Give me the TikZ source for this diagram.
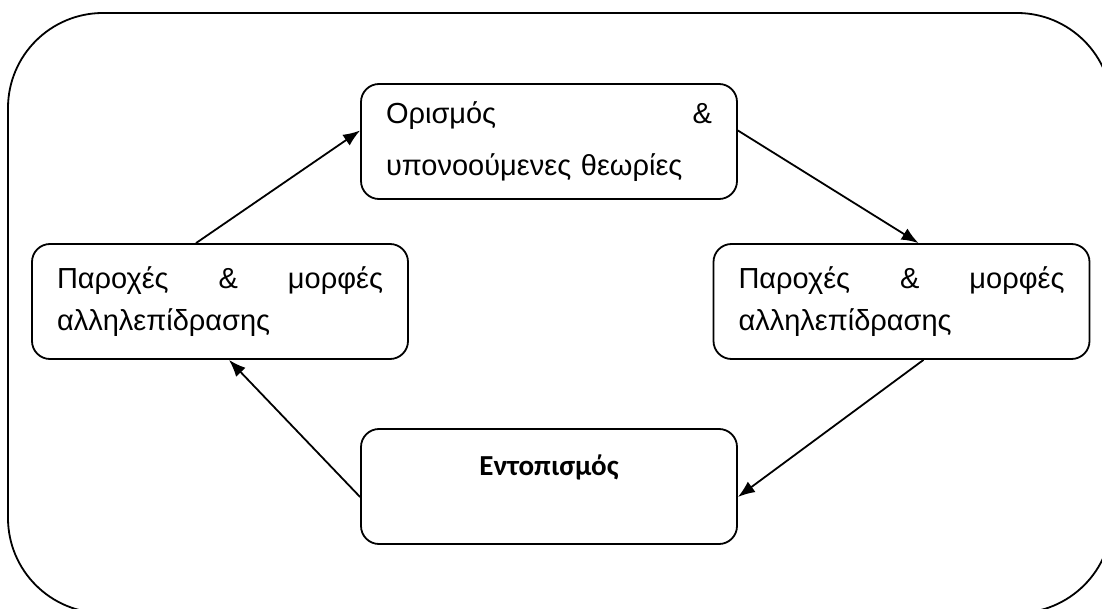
\documentclass[tikz,border=0pt]{standalone}
\usepackage{fontspec}
\setmainfont{Liberation Sans}
\newfontfamily\calibri{Carlito}
\usepackage{tikz}
\usetikzlibrary{arrows.meta}
\usetikzlibrary{positioning}

\tikzset{
  stage/.style={draw, line width=0.9pt, rounded corners=9pt, minimum height=57.5pt,
    inner xsep=12.5pt, text width=163pt, align=left,
    font=\fontsize{14.5}{21}\selectfont},
  flow/.style={-{Latex[length=8.5pt,width=6.5pt]}, line width=0.9pt}
}

\begin{document}
\begin{tikzpicture}[x=0.5pt,y=-0.5pt]
\useasboundingbox (0,0) rectangle (1102,609);
\clip (0,0) rectangle (1102,609);
\draw[line width=0.9pt, rounded corners=47.5pt] (8,13) rectangle (1112,613);

\node[stage, font=\fontsize{14.5}{26}\selectfont] (def) at (549,141.5)
  {Ορισμός\hfill\&\\υπονοούμενες θεωρίες};
\node[stage] (right) at (901.5,301.5) {Παροχές\hfill\&\hfill μορφές\\αλληλεπίδρασης};
\node[stage] (left) at (220,301.5) {Παροχές\hfill\&\hfill μορφές\\αλληλεπίδρασης};
\node[stage, align=center, font=\calibri\bfseries\fontsize{14.5}{21}\selectfont] (loc) at (549,486.5)
  {Εντοπισμός\\\mbox{}};

\draw[flow] ([xshift=-12pt]left.north) -- ([yshift=5.5pt]def.west);
\draw[flow] ([yshift=5.5pt]def.east) -- ([xshift=8.5pt]right.north);
\draw[flow] ([xshift=11pt]right.south) -- ([yshift=-5.25pt]loc.east);
\draw[flow] ([yshift=-5.25pt]loc.west) -- ([xshift=4.5pt]left.south);
\end{tikzpicture}
\end{document}
